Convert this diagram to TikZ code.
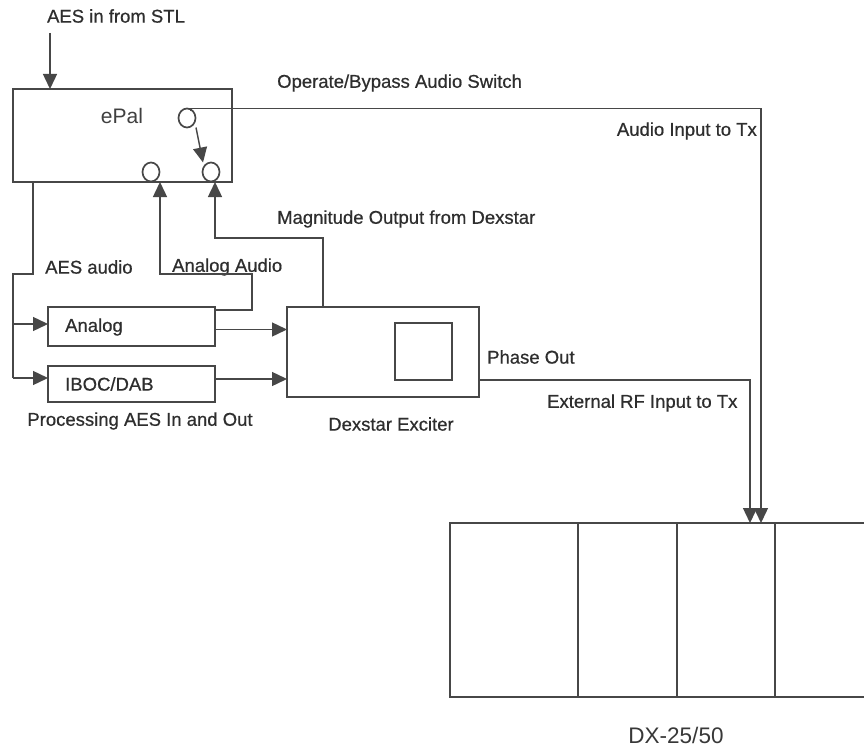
\documentclass[tikz,border=0pt]{standalone}
\usepackage{fontspec}
\setmainfont{Liberation Sans}
\newfontfamily\lblfont[FakeBold=0.6]{Liberation Sans}
\usetikzlibrary{arrows.meta,shapes.geometric}
\begin{document}
\begin{tikzpicture}[x=1pt,y=-1pt,
  ln/.style={draw=black!72,line width=1.4pt},
  arr/.style={ln,-{Triangle[length=15pt,width=14pt]}},
  box/.style={ln,rectangle,inner sep=0pt,outer sep=0pt,anchor=north west},
  port/.style={ln,ellipse,line width=1.7pt,inner sep=0pt,outer sep=0pt,minimum width=17pt,minimum height=19pt},
  lbl/.style={inner sep=0pt,text=black!82,font=\lblfont\fontsize{18.5}{20}\selectfont},
  big/.style={inner sep=0pt,text=black!78,font=\fontsize{22.5}{24}\selectfont}]
\useasboundingbox (0,0) rectangle (864,749);
\clip (0,0) rectangle (864,749);
\fill[white] (0,0) rectangle (864,749);

% boxes
\node[box,minimum width=219pt,minimum height=93pt] (epal) at (13,89) {};
\node[big,text=black!75,font=\fontsize{21}{22}\selectfont] (epaltxt) at (122,116) {ePal};
\node[port] (sw) at (187,118) {};
\node[port] (o1) at (151,172) {};
\node[port] (o2) at (211,172) {};

\node[box,minimum width=167pt,minimum height=39pt] (an) at (48,307) {};
\node[lbl,anchor=west] (antxt) at (65,327) {Analog};
\node[box,minimum width=167pt,minimum height=36pt] (ib) at (48,366) {};
\node[lbl,anchor=west] (ibtxt) at (65,384) {IBOC/DAB};
\node[lbl] (proc) at (140,421) {Processing AES In and Out};

\node[box,minimum width=192pt,minimum height=90pt] (dex) at (287,307) {};
\node[box,minimum width=57pt,minimum height=57pt] (sq) at (395,323) {};
\node[lbl] (dextxt) at (391,424) {Dexstar Exciter};

\node[box,minimum width=440pt,minimum height=174pt] (dx) at (450,523) {};
\node[big] (dxtxt) at (676,735) {DX-25/50};

% labels
\node[lbl] (aesin) at (116,16) {AES in from STL};
\node[lbl,anchor=west] (oper) at (277,83) {Operate/Bypass Audio Switch};
\node[lbl,anchor=east] (audtx) at (757,131) {Audio Input to Tx};
\node[lbl,anchor=west] (mag) at (277,219) {Magnitude Output from Dexstar};
\node[lbl,anchor=west] (aesaud) at (45,267) {AES audio};
\node[lbl,anchor=west] (anaud) at (172,267) {Analog Audio};
\node[lbl,anchor=west] (phase) at (487,357) {Phase Out};
\node[lbl,anchor=west] (ext) at (547,403) {External RF Input to Tx};

% coordinates
\coordinate (aesTop) at (50,33);
\coordinate (dxA) at (761,523);
\coordinate (dxP) at (750,523);
\coordinate (aBend) at (252,274);
\coordinate (t1) at (160,182);
\coordinate (mBend) at (215,238);
\coordinate (t2) at (215,182);
\coordinate (aesDown) at (33,274);
\coordinate (aesLeft) at (13,274);
\coordinate (aesJ1) at (13,324);
\coordinate (aesJ2) at (13,378);

% DX dividers
\foreach \dxo in {128,227,325}
  \draw[ln] ([xshift=\dxo pt]dx.north west) -- ([xshift=\dxo pt]dx.south west);

% connectors
\draw[arr] (aesTop) -- (aesTop |- epal.north);
\draw[arr] ([xshift=-2pt]sw.north east) |- ++(0,-3) -| (dxA);
\draw[arr] ([xshift=9pt]sw.south) -- ([xshift=-8pt]o2.north);
\draw[arr] ([yshift=-3pt]an.north east) -| (aBend) -| (t1);
\draw[arr] ([xshift=36pt]dex.north west) |- (mBend) -- (t2);
\draw[ln] (epal.south -| aesDown) -- (aesDown) -- (aesLeft) -- (aesJ2);
\draw[arr] (aesJ1) -- (aesJ1 -| an.west);
\draw[arr] (aesJ2) -- (aesJ2 -| ib.west);
\draw[arr] ([yshift=-3pt]an.east) -- ([yshift=-3pt]an.east -| dex.west);
\draw[arr] ([yshift=5pt]ib.east) -- ([yshift=5pt]ib.east -| dex.west);
\draw[arr] ([yshift=17pt]dex.south east) -| (dxP);
\end{tikzpicture}
\end{document}
